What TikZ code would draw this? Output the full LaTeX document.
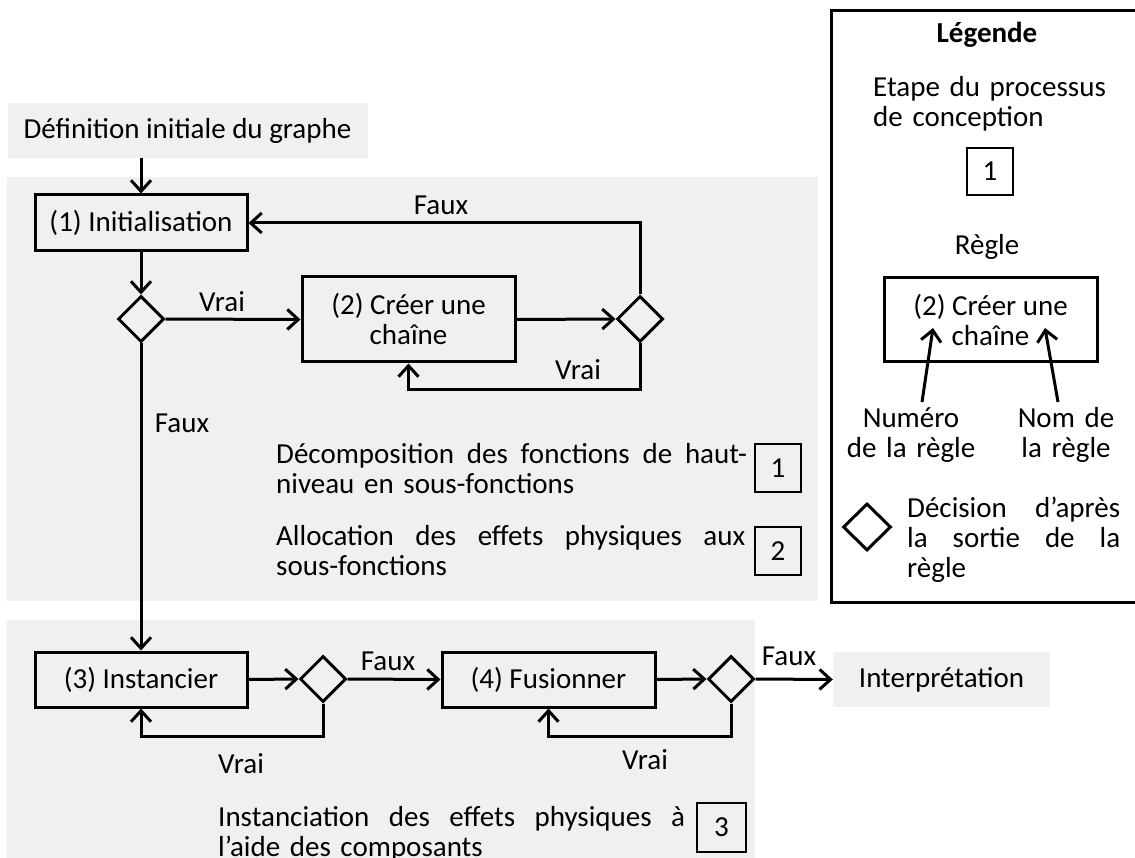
\documentclass[tikz,border=0pt]{standalone}
\usepackage{fontspec}
\setmainfont{Carlito}
\usetikzlibrary{arrows.meta,shapes.geometric}
\definecolor{panel}{RGB}{240,240,240}
\newcommand\dfont{\fontsize{29pt}{30pt}\selectfont}
% a fully justified line of a given width
\newcommand\justline[2]{\makebox[#1][l]{#2}}

\begin{document}
\begin{tikzpicture}[x=1pt,y=-1pt,
  every node/.style={font=\dfont, inner sep=0pt},
  line/.style={line width=3pt, line join=miter},
  arr/.style={line, -{Straight Barb[length=11pt,width=20pt]}},
  rulebox/.style={draw, line width=3pt, minimum width=212pt, minimum height=56pt, align=center},
  decision/.style={draw, line width=3pt, shape=diamond, minimum width=46pt, minimum height=46pt},
  stepnum/.style={draw, line width=2.6pt, minimum width=46pt, minimum height=48pt},
  graybox/.style={fill=panel, minimum height=55pt},
  lbl/.style={anchor=base},
  para/.style={anchor=base west, align=left},
]
\useasboundingbox (0,0) rectangle (1135,858);

% background panels of the two stages
\fill[panel] (7,177) rectangle (818,601);
\fill[panel] (7,620) rectangle (755,858);

% start and end
\node[graybox, minimum width=360pt] (graphe) at (187.5,130.5) {Définition initiale du graphe};
\node[graybox, minimum width=217pt] (interp) at (941.5,679.5) {Interprétation};

% rules
\node[rulebox] (init) at (141,223) {(1) Initialisation};
\node[rulebox, minimum width=213pt, minimum height=85pt] (creer) at (408.5,319.5) {(2) Créer une\\chaîne};
\node[rulebox, minimum height=55pt] (inst) at (141,679.5) {(3) Instancier};
\node[rulebox, minimum width=213pt, minimum height=55pt] (fus) at (548.5,679.5) {(4) Fusionner};

% decisions
\node[decision] (d1) at (141,319) {};
\node[decision] (d2) at (640,319) {};
\node[decision] (d3) at (323,679) {};
\node[decision] (d4) at (731,679) {};

% loop corners
\coordinate (v2) at (640,390);
\coordinate (v3) at (323,736);
\coordinate (v4) at (731,736);

% connectors
\draw[arr] (init.north |- graphe.south) -- (init.north);
\draw[arr] (init.south) -- (d1.north);
\draw[arr] (d1.east) -- (creer.west);
\draw[arr] (creer.east) -- (d2.west);
\draw[arr] (d2.north) |- (init.east);
\draw[arr] (d2.south) -- (v2) -| (creer.south);
\draw[arr] (d1.south) -- (inst.north);
\draw[arr] (inst.east) -- (d3.west);
\draw[arr] (d3.east) -- (fus.west);
\draw[arr] (d3.south) -- (v3) -| (inst.south);
\draw[arr] (fus.east) -- (d4.west);
\draw[arr] (d4.south) -- (v4) -| (fus.south);
\draw[arr] (d4.east) -- (interp.west);

% connector labels
\node[lbl] (lf1) at (441,215) {Faux};
\node[lbl] (lv1) at (222,312) {Vrai};
\node[lbl] (lv2) at (578,380) {Vrai};
\node[lbl] (lf2) at (182,432) {Faux};
\node[lbl] (lf3) at (388,670) {Faux};
\node[lbl] (lf4) at (789,665) {Faux};
\node[lbl] (lv3) at (241,773) {Vrai};
\node[lbl] (lv4) at (645,769) {Vrai};

% design process steps
\node[para, text width=471pt] (t1) at (276,463)
  {\justline{471pt}{Décomposition\hfill des\hfill fonctions\hfill de\hfill haut-}\\niveau en sous-fonctions};
\node[stepnum] (s1) at (778,468) {1};
\node[para, text width=469pt] (t2) at (276,545)
  {\justline{469pt}{Allocation\hfill des\hfill effets\hfill physiques\hfill aux}\\sous-fonctions};
\node[stepnum] (s2) at (778,551) {2};
\node[para, text width=467pt] (t3) at (218,826)
  {\justline{467pt}{Instanciation\hfill des\hfill effets\hfill physiques\hfill à}\\l’aide des composants};
\node[stepnum, minimum width=49pt, minimum height=49pt] (s3) at (721.5,827.5) {3};

% legend
\draw[line] (831,11) rectangle (1145,602);
\node[lbl, font=\dfont\bfseries] (leg) at (987,43) {Légende};
\node[para, text width=260pt] (etape) at (873,97) {Etape du processus\\de conception};
\node[stepnum, minimum width=46pt, minimum height=47pt] (ls) at (990,171.5) {1};
\node[lbl] (regle) at (987,255) {Règle};
\node[rulebox, minimum width=213pt, minimum height=84pt] (lr) at (990.5,320) {(2) Créer une\\chaîne};
\node[anchor=base, align=center, text width=150pt] (numero) at (911,427) {Numéro\\de la règle};
\node[anchor=base, align=center, text width=120pt] (nom) at (1066,427) {Nom de\\la règle};
\coordinate (numtail) at (922,402);
\coordinate (numtip) at (933,328);
\coordinate (nomtail) at (1058,402);
\coordinate (nomtip) at (1045,328);
\draw[arr] (numtail) -- (numtip);
\draw[arr] (nomtail) -- (nomtip);
\node[decision, minimum width=48pt, minimum height=47pt] (ld) at (867,527) {};
\node[para, text width=213pt] (dec) at (907,517)
  {\justline{213pt}{Décision\hfill d’après}\\\justline{213pt}{la\hfill sortie\hfill de\hfill la}\\règle};
\end{tikzpicture}
\end{document}
